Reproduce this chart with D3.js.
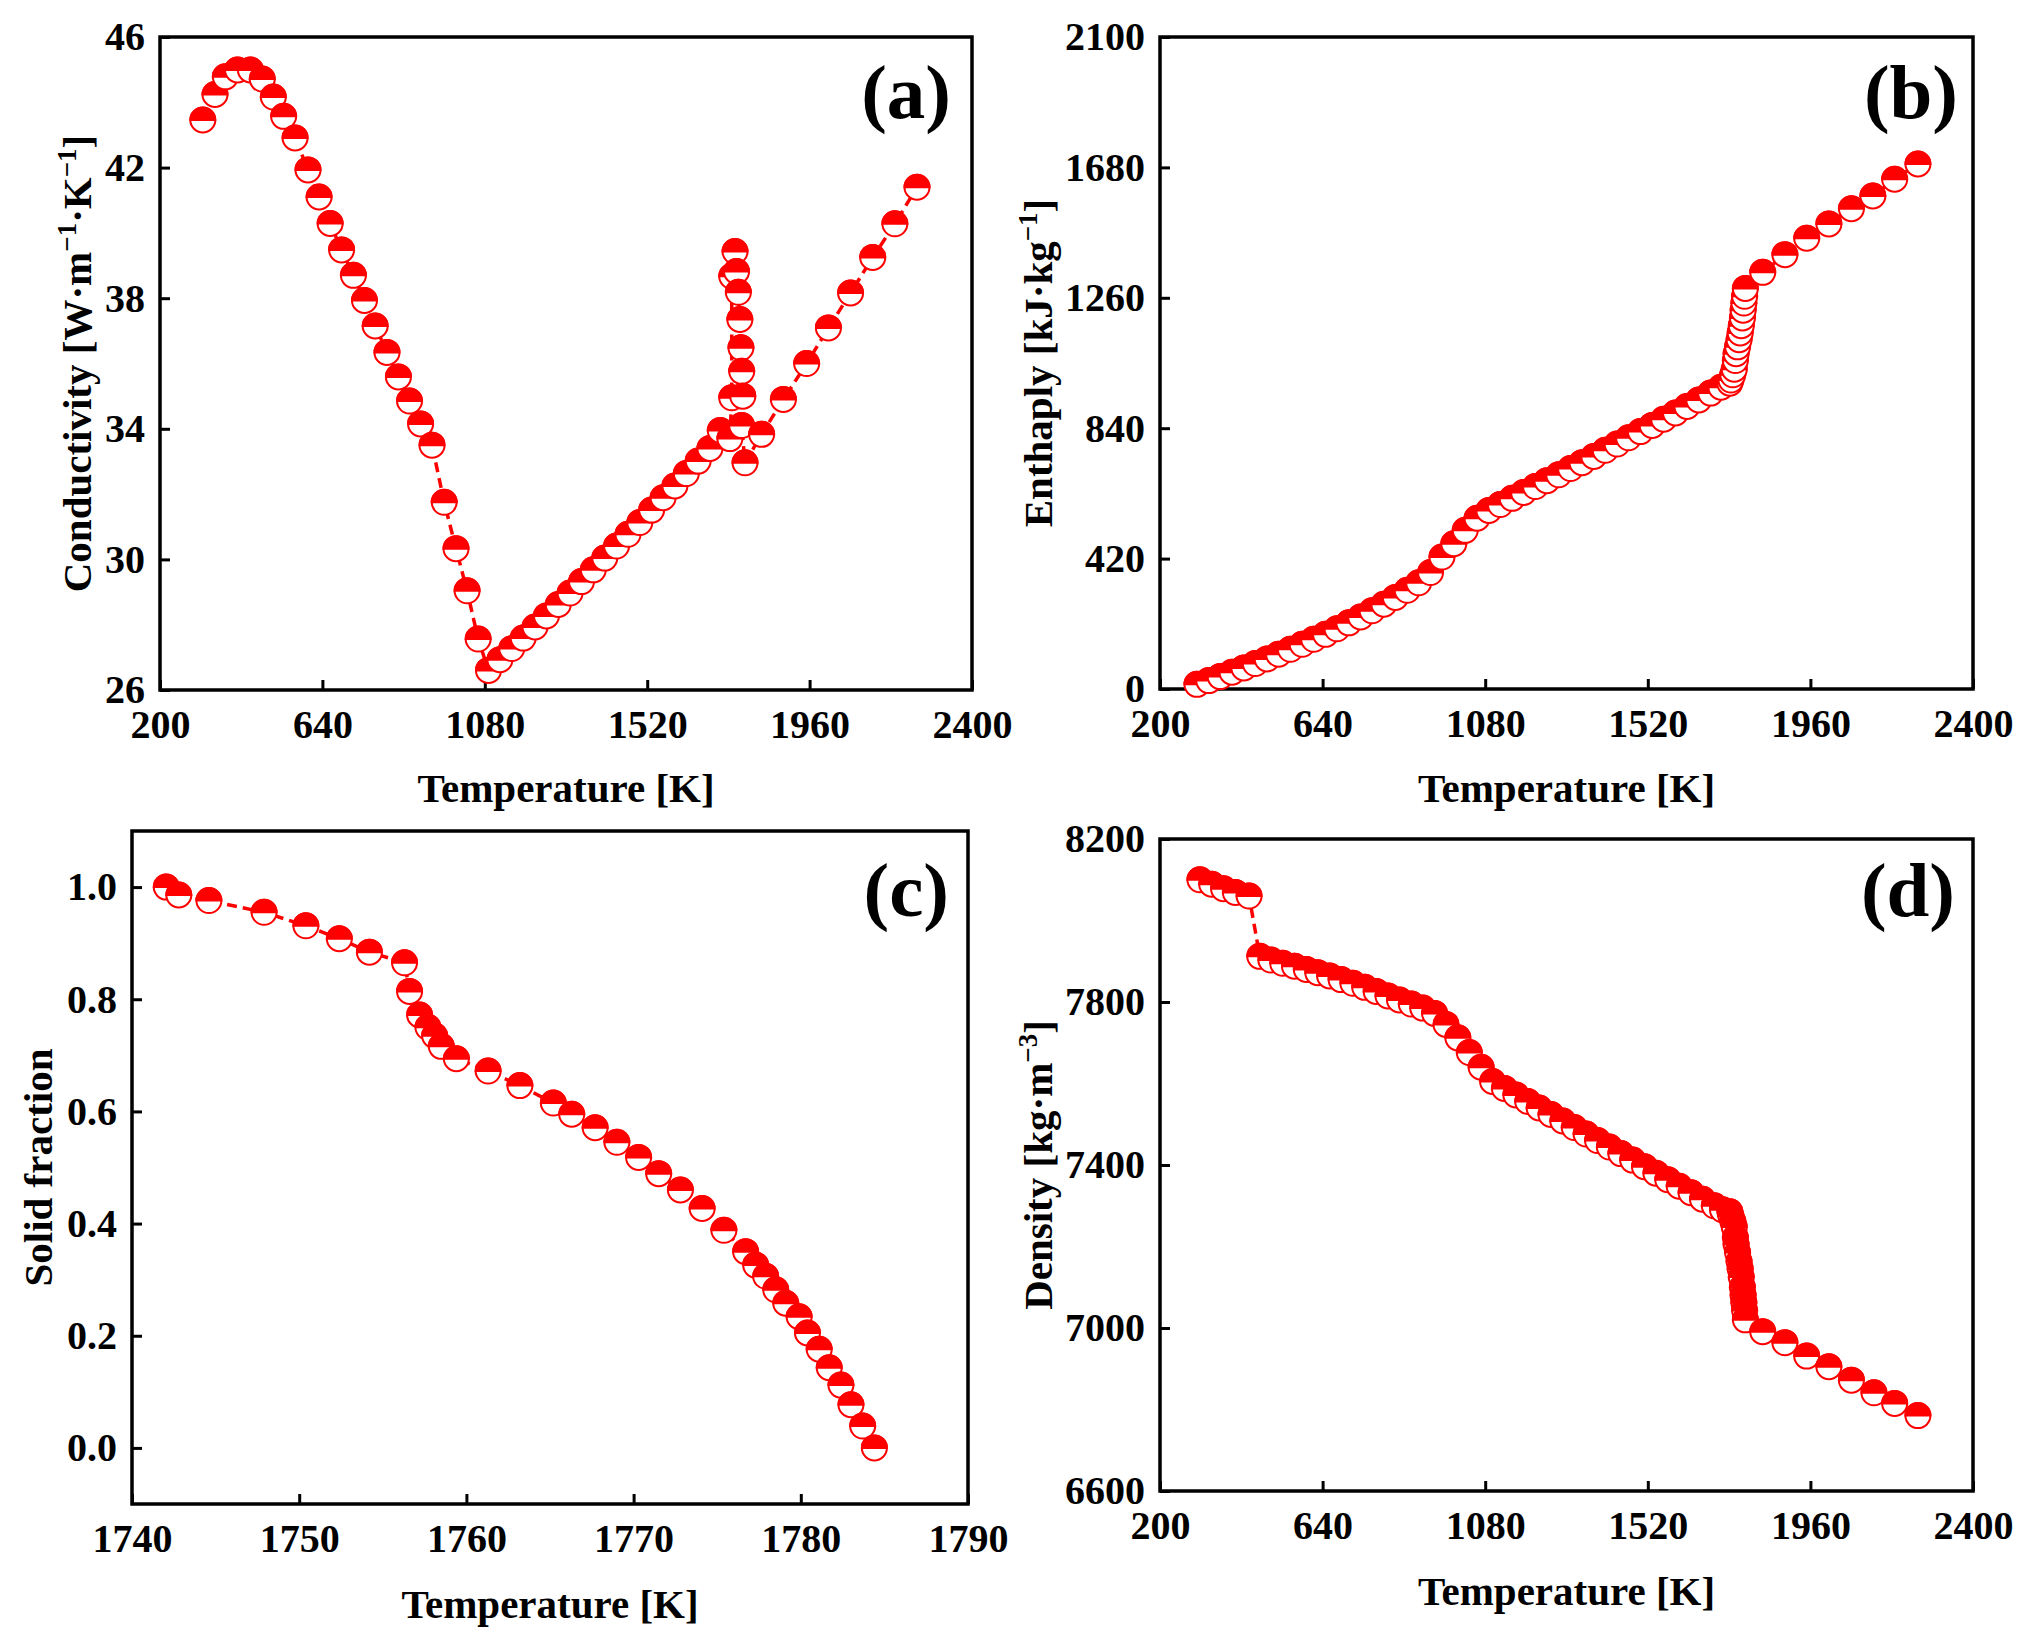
<!DOCTYPE html>
<html><head><meta charset="utf-8">
<script src="https://cdn.jsdelivr.net/npm/d3@7/dist/d3.min.js"></script>
<style>
body{margin:0;background:#fff}
text{font-family:"Liberation Serif","Times New Roman",serif;font-weight:bold;fill:#000}
</style>
</head><body>
<svg id="chart" width="2027" height="1647"></svg>
<script>
// ---------- DATA ----------
// (a) Conductivity
const condT = [316,349,377,410,445,477,507,535,566,601,631,661,692,724,754,783,815,846,876,906,937,970,1002,1032,1062,1090,
  1121,1153,1184,1216,1247,1279,1311,1342,1374,1405,1437,1468,1500,1532,1563,1595,1626,1658,1690,1718,
  1744,1749,1749,1758,1762,1767,1771,1774,1776,1779,1776,1785,1830,1889,1952,2011,2071,2131,2191,2251];
const condK = [43.46,44.24,44.78,44.99,44.99,44.71,44.16,43.57,42.91,41.93,41.10,40.29,39.48,38.70,37.93,37.15,36.34,35.59,34.85,34.15,33.50,31.75,30.33,29.04,27.56,26.60,
  26.93,27.27,27.59,27.93,28.27,28.62,28.97,29.32,29.68,30.04,30.41,30.77,31.13,31.51,31.89,32.25,32.63,33.01,33.40,33.95,
  33.70,34.95,38.67,39.43,38.82,38.18,37.35,36.48,35.76,35.00,34.10,32.96,33.83,34.90,36.00,37.09,38.16,39.25,40.28,41.40];

// (b) Enthalpy
const enthT = [300,332,363,395,427,458,490,521,553,585,616,648,679,711,743,774,806,837,869,900,932,963,995,1026,1058,1090,
  1121,1153,1184,1216,1247,1279,1311,1342,1374,1405,1437,1468,1500,1532,1563,1595,1626,1658,1690,1718,
  1742,1745,1750,1754,1757,1759,1763,1767,1770,1773,1776,1778,1780,1782,1784,
  1831,1891,1950,2010,2071,2129,2188,2251];
const enthH = [15,27,40,54,68,82,97,112,128,144,160,176,194,213,232,252,273,295,318,342,375,425,468,511,550,575,
  594,614,633,652,671,690,710,729,749,769,789,809,829,849,869,889,910,931,953,972,
  985,995,1012,1030,1058,1080,1102,1125,1147,1170,1195,1220,1243,1265,1290,
  1342,1399,1452,1498,1547,1588,1642,1691];

// (c) Solid fraction
const solT = [1742.05,1742.8,1744.6,1747.9,1750.4,1752.4,1754.2,1756.3,1756.6,1757.2,1757.7,1758.1,1758.5,1759.4,1761.3,1763.2,
  1765.2,1766.3,1767.7,1769.0,1770.3,1771.5,1772.8,1774.1,1775.4,1776.7,1777.3,1777.9,1778.5,1779.1,1779.9,1780.4,
  1781.1,1781.7,1782.4,1783.0,1783.7,1784.4];
const solF = [1.0,0.986,0.976,0.955,0.931,0.908,0.884,0.865,0.814,0.772,0.750,0.735,0.716,0.694,0.672,0.646,
  0.615,0.595,0.571,0.545,0.518,0.489,0.460,0.427,0.388,0.350,0.326,0.306,0.282,0.258,0.234,0.205,
  0.176,0.143,0.112,0.077,0.039,0.0];

// (d) Density
const densT = [308,340,372,404,441,
  470,500,532,564,596,627,659,690,722,754,785,817,848,880,911,943,974,1006,1037,1069,1100,
  1132,1163,1195,1226,1258,1290,1321,1353,1384,1416,1447,1479,1511,1542,1574,1605,1637,1668,1700,1722,
  1742,1745,1750,1754,1757,1759,1763,1767,1770,1773,1776,1778,1780,1782,1784,
  1831,1891,1950,2010,2071,2132,2188,2251];
const densR = [8100,8089,8078,8069,8060,
  7912,7903,7895,7888,7880,7872,7864,7855,7846,7836,7826,7815,7805,7795,7785,7772,7745,7712,7676,7640,7605,
  7588,7572,7556,7540,7524,7508,7492,7476,7460,7444,7428,7412,7396,7380,7364,7348,7332,7316,7300,7290,
  7285,7275,7262,7248,7222,7205,7185,7163,7145,7125,7100,7080,7062,7043,7020,
  6991,6964,6931,6905,6872,6841,6815,6785];

// Tick labels
const tempTicks = [200,640,1080,1520,1960,2400];
const solTempTicks = [1740,1750,1760,1770,1780,1790];
const condTicks = [26,30,34,38,42,46];
const enthTicks = [0,420,840,1260,1680,2100];
const solTicks = [0.0,0.2,0.4,0.6,0.8,1.0];
const densTicks = [6600,7000,7400,7800,8200];

// ---------- DRAW ----------
const svg = d3.select("#chart");
const RED = "#ff0000";

const panels = [
  {L:160,R:972,T:37,B:690, xd:[200,2400], yd:[26,46], xt:tempTicks, yt:condTicks, yf:d3.format("d"),
   X:condT, Y:condK, lab:"(a)", labX:951, labY:118,
   ytitle:[["Conductivity [W·m",0],["−1",1],["·K",0],["−1",1],["]",0]], ytX:91, xtY:802},
  {L:1160,R:1973,T:37,B:689, xd:[200,2400], yd:[0,2100], xt:tempTicks, yt:enthTicks, yf:d3.format("d"),
   X:enthT, Y:enthH, lab:"(b)", labX:1958, labY:118,
   ytitle:[["Enthaply [kJ·kg",0],["−1",1],["]",0]], ytX:1052, xtY:802},
  {L:132,R:968,T:831,B:1504, xd:[1740,1790], yd:[-0.1,1.1], xt:solTempTicks, yt:solTicks, yf:d3.format(".1f"),
   X:solT, Y:solF, lab:"(c)", labX:949, labY:916,
   ytitle:[["Solid fraction",0]], ytX:52, xtY:1618},
  {L:1160,R:1973,T:839,B:1491, xd:[200,2400], yd:[6600,8200], xt:tempTicks, yt:densTicks, yf:d3.format("d"),
   X:densT, Y:densR, lab:"(d)", labX:1955, labY:916,
   ytitle:[["Density [kg·m",0],["−3",1],["]",0]], ytX:1052, xtY:1605}
];

const r = 12.5;
panels.forEach(p => {
  const x = d3.scaleLinear().domain(p.xd).range([p.L, p.R]);
  const y = d3.scaleLinear().domain(p.yd).range([p.B, p.T]);
  const g = svg.append("g");

  // axes with inward ticks
  const ax = g.append("g").attr("transform", `translate(0,${p.B})`)
    .call(d3.axisBottom(x).tickValues(p.xt).tickSize(-10).tickPadding(20).tickFormat(d3.format("d")));
  const ay = g.append("g").attr("transform", `translate(${p.L},0)`)
    .call(d3.axisLeft(y).tickValues(p.yt).tickSize(-10).tickPadding(15).tickFormat(p.yf));
  [ax, ay].forEach(a => {
    a.select(".domain").remove();
    a.selectAll(".tick line").attr("stroke", "#000").attr("stroke-width", 3);
    a.selectAll(".tick text").attr("font-size", 40).attr("fill", "#000")
      .style("font-family", '"Liberation Serif","Times New Roman",serif').style("font-weight", "bold");
  });

  // frame
  g.append("rect").attr("x", p.L).attr("y", p.T).attr("width", p.R - p.L).attr("height", p.B - p.T)
    .attr("fill", "none").attr("stroke", "#000").attr("stroke-width", 3.5);

  // x title
  g.append("text").attr("x", (p.L + p.R) / 2).attr("y", p.xtY).attr("text-anchor", "middle")
    .attr("font-size", 41).text("Temperature [K]");

  // y title
  const cy = (p.T + p.B) / 2;
  const yt = g.append("text").attr("transform", `translate(${p.ytX},${cy}) rotate(-90)`)
    .attr("text-anchor", "middle").attr("font-size", 41);
  let shifted = false;
  p.ytitle.forEach(([s, sup]) => {
    const ts = yt.append("tspan").text(s);
    if (sup) { ts.attr("font-size", 27).attr("dy", -15); shifted = true; }
    else if (shifted) { ts.attr("dy", 15); shifted = false; }
  });

  // panel label
  g.append("text").attr("x", p.labX).attr("y", p.labY).attr("text-anchor", "end")
    .attr("font-size", 77).text(p.lab);

  // data
  const pts = p.X.map((v, i) => [v, p.Y[i]]);
  g.append("path").datum(pts)
    .attr("d", d3.line().x(d => x(d[0])).y(d => y(d[1])))
    .attr("fill", "none").attr("stroke", RED).attr("stroke-width", 3.5).attr("stroke-dasharray", "10,6");

  const m = g.selectAll("g.mk").data(pts).join("g").attr("class", "mk")
    .attr("transform", d => `translate(${x(d[0])},${y(d[1])})`);
  m.append("circle").attr("r", r).attr("fill", "#fff").attr("stroke", RED).attr("stroke-width", 2);
  m.append("path").attr("d", `M${-r},0 A${r},${r} 0 0 1 ${r},0 Z`).attr("fill", RED).attr("stroke", RED).attr("stroke-width", 2);
});
</script>
</body></html>
